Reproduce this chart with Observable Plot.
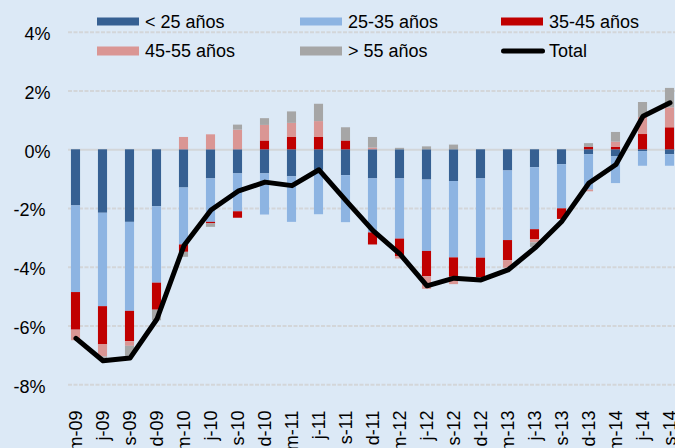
<!DOCTYPE html>
<html><head><meta charset="utf-8">
<script src="https://cdn.jsdelivr.net/npm/d3@7"></script>
<script src="https://cdn.jsdelivr.net/npm/@observablehq/plot@0.6"></script>
<style>
html,body{margin:0;padding:0;background:#dce9f6;overflow:hidden;}
#wrap{position:relative;width:675px;height:448px;font-family:"Liberation Sans",Arial,sans-serif;}
.leg{position:absolute;display:flex;align-items:center;font-size:18px;color:#000;white-space:nowrap;transform:translateY(-50%);}
.sw{width:42px;height:8.5px;margin-right:6px;}
.swl{width:44px;height:5.5px;border-radius:3px;margin-right:4px;background:#000;}
</style></head><body><div id="wrap"></div>
<script>
const dates = ["m-09","j-09","s-09","d-09","m-10","j-10","s-10","d-10","m-11","j-11","s-11","d-11","m-12","j-12","s-12","d-12","m-13","j-13","s-13","d-13","m-14","j-14","s-14"];
const groups = ["< 25 años","25-35 años","35-45 años","45-55 años","> 55 años"];
const colors = ["#366092","#8db4e2","#c00000","#da9694","#a6a6a6"];
const under25  = [-1.91,-2.16,-2.47,-1.94,-1.30,-0.99,-0.82,-0.82,-0.92,-0.70,-0.88,-0.99,-0.99,-1.03,-1.08,-0.99,-0.72,-0.61,-0.51,-0.17,-0.24,-0.06,-0.17];
const age25_35 = [-2.95,-3.18,-3.03,-2.60,-1.94,-1.48,-1.29,-1.40,-1.55,-1.51,-1.60,-1.84,-2.05,-2.43,-2.60,-2.70,-2.37,-2.11,-1.50,-1.20,-0.91,-0.50,-0.39];
const age35_45 = [-1.28,-1.30,-1.03,-0.92,-0.25,-0.05,-0.22,0.30,0.42,0.42,0.30,-0.41,-0.60,-0.86,-0.66,-0.66,-0.68,-0.34,-0.36,0.09,0.09,0.52,0.75];
const age45_55 = [-0.36,-0.41,-0.16,0,0.42,0.51,0.67,0.53,0.48,0.54,0,0.06,-0.08,-0.43,-0.25,-0.03,-0.26,-0.11,0,-0.06,0.17,0.58,0.68];
const over55   = [0,-0.05,-0.34,-0.36,-0.17,-0.12,0.17,0.23,0.39,0.59,0.45,0.36,0.05,0.10,0.16,0,0,-0.15,0,0.12,0.33,0.51,0.66];
const total    = [-6.42,-7.18,-7.09,-5.76,-3.26,-2.05,-1.41,-1.10,-1.22,-0.68,-1.73,-2.75,-3.55,-4.63,-4.37,-4.43,-4.09,-3.34,-2.43,-1.13,-0.50,1.14,1.60];
const yTicks = [-8,-6,-4,-2,0,2,4];

const series = [under25, age25_35, age35_45, age45_55, over55];
const rows = [];
series.forEach((vals, g) => vals.forEach((v, i) => rows.push({date: dates[i], group: groups[g], value: v})));
const totalRows = dates.map((d, i) => ({date: d, value: total[i]}));

const chart = Plot.plot({
  width: 675, height: 448,
  marginLeft: 68, marginRight: 0, marginTop: 30, marginBottom: 41,
  style: {background: "transparent", fontFamily: "'Liberation Sans', Arial, sans-serif", fontSize: "18px", color: "#000"},
  x: {type: "band", domain: dates, range: [59.9, 685.6], padding: 0, label: null},
  y: {domain: [-8, 4], range: [384.3, 31.8], label: null},
  color: {domain: groups, range: colors},
  marks: [
    Plot.gridY(yTicks.filter(d => d !== 0), {stroke: "#d3d6d9", strokeOpacity: 1, strokeWidth: 2, strokeDasharray: "4,1.5"}),
    Plot.ruleY([0], {stroke: "#d3d6d9", strokeWidth: 2}),
    Plot.barY(rows, {x: "date", y: "value", fill: "group", insetLeft: 8.95, insetRight: 8.95}),
    Plot.lineY(totalRows, {x: "date", y: "value", stroke: "#000", strokeWidth: 5, strokeLinejoin: "round"}),
    Plot.axisY(yTicks, {tickSize: 0, tickPadding: 18, tickFormat: d => d < 0 ? `-${-d}%\u00a0` : `${d}%`, label: null, fontSize: 18, dy: 2}),
    Plot.axisX({tickSize: 0, tickPadding: 3, tickRotate: -90, label: null, fontSize: 18})
  ]
});
const wrap = document.getElementById("wrap");
wrap.appendChild(chart);

const legendLefts = [97, 300, 501];
const legendTops = [21.5, 51];
const legendItems = groups.map((g, i) => ({label: g, color: colors[i]})).concat([{label: "Total", line: true}]);
legendItems.forEach((it, i) => {
  const el = document.createElement("div");
  el.className = "leg";
  el.style.left = legendLefts[i % 3] + "px";
  el.style.top = legendTops[Math.floor(i / 3)] + "px";
  const sw = document.createElement("div");
  sw.className = it.line ? "swl" : "sw";
  if (!it.line) sw.style.background = it.color;
  const tx = document.createElement("span");
  tx.textContent = it.label;
  el.appendChild(sw); el.appendChild(tx);
  wrap.appendChild(el);
});
wrap.querySelector("svg").style.position = "absolute";
wrap.querySelector("svg").style.left = "0";
wrap.querySelector("svg").style.top = "0";
</script></body></html>
